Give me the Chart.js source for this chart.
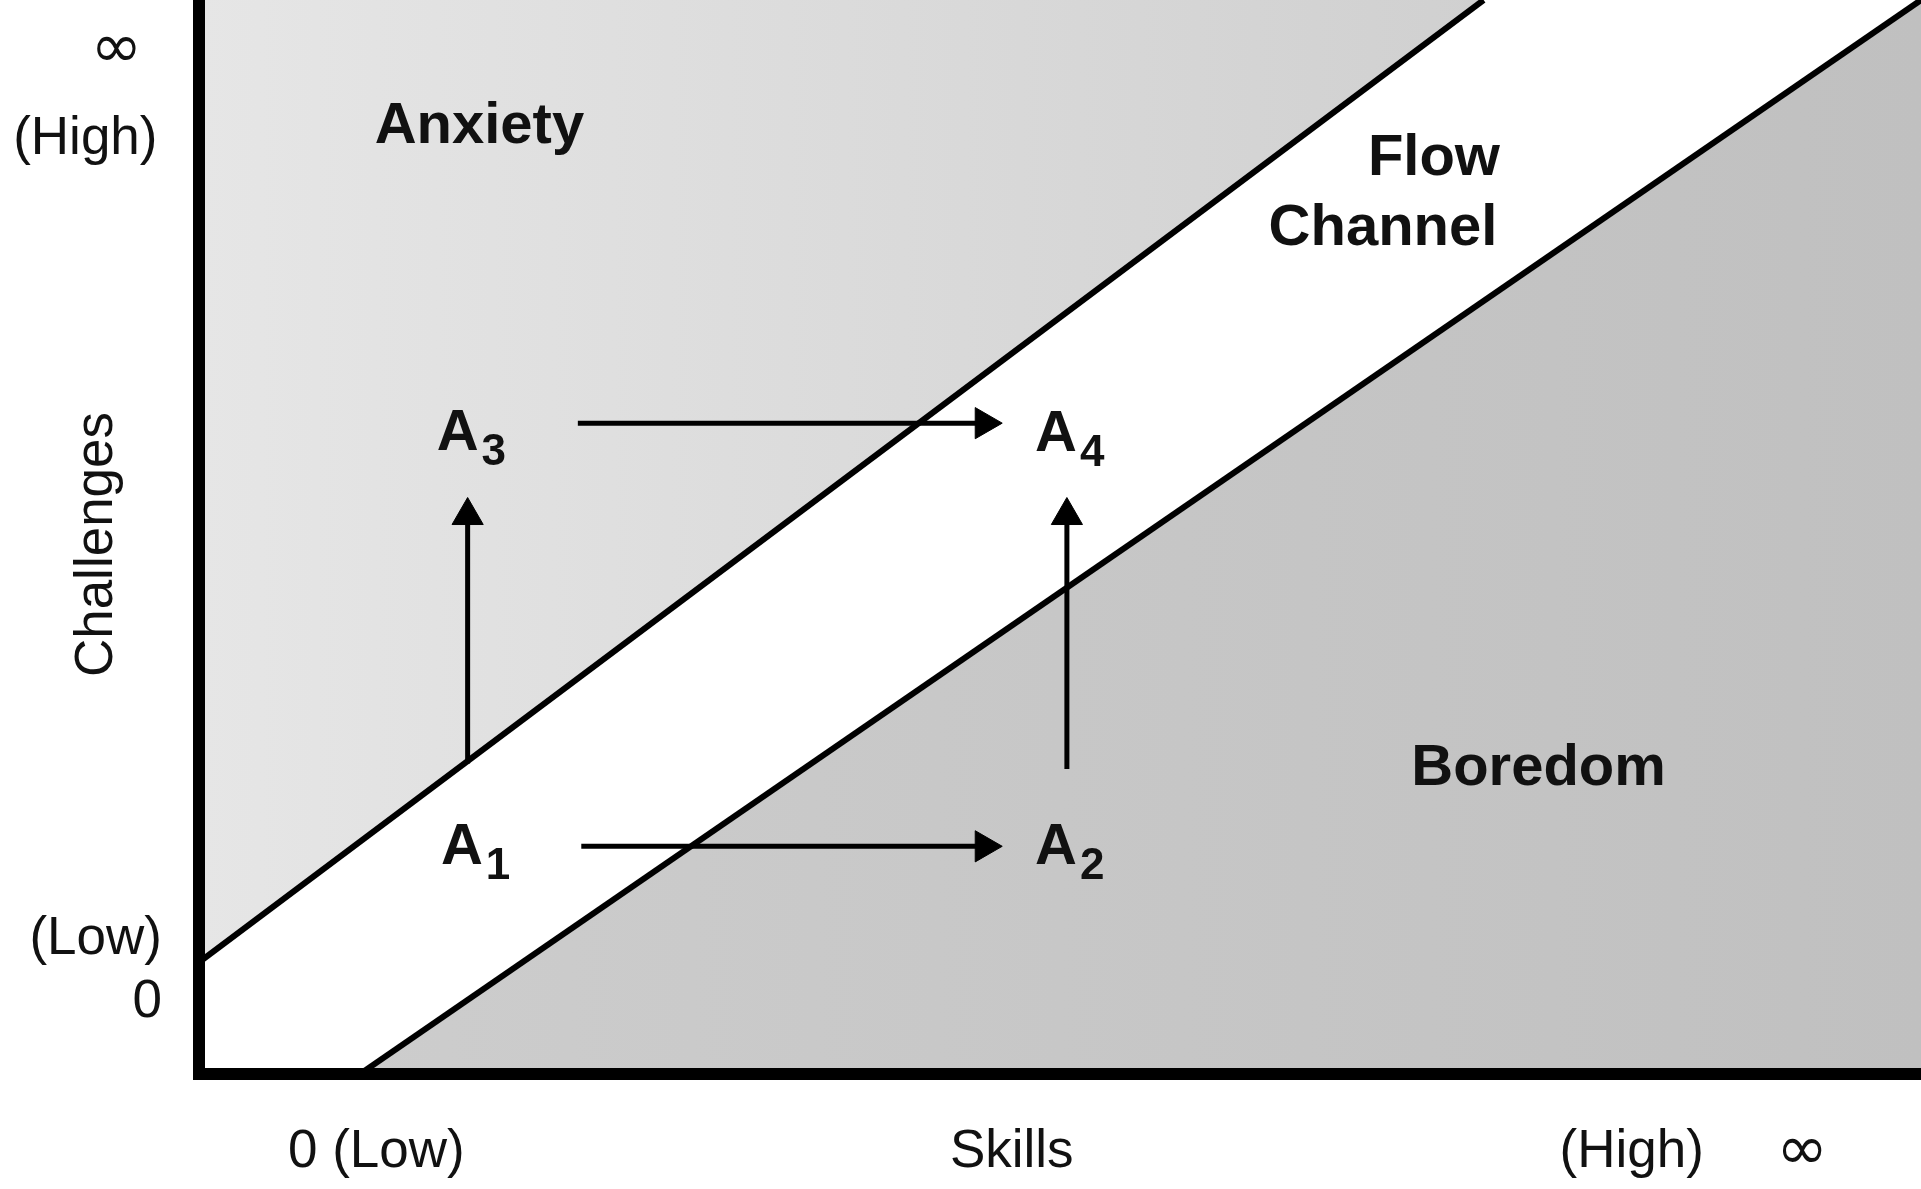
<!DOCTYPE html>
<html>
<head>
<meta charset="utf-8">
<title>Flow Channel</title>
<script src="https://cdn.jsdelivr.net/npm/chart.js@4.4.0/dist/chart.umd.min.js"></script>
<style>
    html, body { margin: 0; padding: 0; background: #fff; }
</style>
</head>
<body>
<canvas id="flowChart" width="1921" height="1189"></canvas>
<script>
"use strict";

// Both axes run 0..100 (skills on x, challenges on y)

// Edges of the flow channel
var upperEdgeX = [0, 74.6];
var upperEdgeY = [10.4, 100];
var lowerEdgeX = [9.35, 100];
var lowerEdgeY = [0, 100];

// Arrows between states
var arrowNames = ["A1 to A2", "A3 to A4", "A1 to A3", "A2 to A4"];
var arrowFromX = [22.2, 22.0, 15.6, 50.4];
var arrowFromY = [21.2, 60.6, 28.9, 28.4];
var arrowToX = [45.6, 45.6, 15.6, 50.4];
var arrowToY = [21.2, 60.6, 52.0, 52.0];

// States A1..A4
var stateSubs = ["1", "2", "3", "4"];
var stateX = [14.05, 48.55, 13.8, 48.55];
var stateY = [19.55, 19.55, 58.1, 58.0];

// Region names
var regionNames = ["Anxiety", "Flow", "Channel", "Boredom"];
var regionX = [10.2, 75.55, 75.4, 70.4];
var regionY = [86.7, 83.7, 77.2, 26.9];
var regionAlign = ["left", "right", "right", "left"];

// Tick labels
var yTickLabels = ["\u221E", "(High)", "(Low)", "0"];
var yTickValues = [95.3, 87.0, 12.5, 6.7];
var xTickLabels = ["0 (Low)", "(High)", "\u221E"];
var xTickValues = [10.3, 83.2, 93.1];

var xTitle = "Skills";
var yTitle = "Challenges";

// Where the outside texts sit (data units, beyond the axes)
var yTickAt = [-4.8, -6.6, -6.0, -3.0];
var xTickAt = -7.3;
var xTitleAt = 47.2;
var yTitleAt = -5.9;

var fontFamily = "'Liberation Sans', Arial, Helvetica, sans-serif";
var infinity = "\u221E";

function anxietyFill(context) {
    var area = context.chart.chartArea;
    if (!area) {
        return "rgb(218, 218, 218)";
    }
    var g = context.chart.ctx.createLinearGradient(area.left, 0, area.right, 0);
    g.addColorStop(0, "rgb(230, 230, 230)");
    g.addColorStop(0.75, "rgb(208, 208, 208)");
    return g;
}

function boredomFill(context) {
    var area = context.chart.chartArea;
    if (!area) {
        return "rgb(198, 198, 198)";
    }
    var g = context.chart.ctx.createLinearGradient(area.left, 0, area.right, 0);
    g.addColorStop(0, "rgb(206, 206, 206)");
    g.addColorStop(1, "rgb(192, 192, 192)");
    return g;
}

function toPoints(xs, ys) {
    var pts = [];
    for (let i = 0; i < xs.length; i++) {
        pts.push({ x: xs[i], y: ys[i] });
    }
    return pts;
}

var datasets = [];

// Arrows (drawn on top)
for (let i = 0; i < arrowNames.length; i++) {
    var horizontal = arrowFromY[i] === arrowToY[i];
    datasets.push({
        label: arrowNames[i],
        data: toPoints([arrowFromX[i], arrowToX[i]], [arrowFromY[i], arrowToY[i]]),
        borderColor: "#000",
        borderWidth: 5,
        fill: false,
        pointStyle: "triangle",
        pointRadius: [0, 18],
        pointRotation: [0, horizontal ? 90 : 0],
        pointBackgroundColor: "#000",
        pointBorderColor: "#000",
        pointBorderWidth: 1,
        order: 0
    });
}

// Channel edges with the shaded regions
datasets.push({
    label: "Upper edge",
    data: toPoints(upperEdgeX, upperEdgeY),
    borderColor: "#000",
    borderWidth: 6,
    pointRadius: 0,
    fill: "end",
    backgroundColor: anxietyFill,
    order: 1
});
datasets.push({
    label: "Lower edge",
    data: toPoints(lowerEdgeX, lowerEdgeY),
    borderColor: "#000",
    borderWidth: 6,
    pointRadius: 0,
    fill: "start",
    backgroundColor: boredomFill,
    order: 1
});

function setLabelFont(ctx, text) {
    // the infinity sign is drawn bigger, as in the printed figure
    if (text === infinity) {
        ctx.font = "62px 'DejaVu Sans', sans-serif";
    } else {
        ctx.font = "53px " + fontFamily;
    }
}

var labelPlugin = {
    id: "flowLabels",
    afterDatasetsDraw: function (chart) {
        var ctx = chart.ctx;
        var xs = chart.scales.x;
        var ys = chart.scales.y;

        ctx.save();
        ctx.fillStyle = "#111";

        // Region names
        ctx.font = "bold 58px " + fontFamily;
        ctx.textBaseline = "alphabetic";
        for (let i = 0; i < regionNames.length; i++) {
            ctx.textAlign = regionAlign[i];
            ctx.fillText(regionNames[i], xs.getPixelForValue(regionX[i]), ys.getPixelForValue(regionY[i]));
        }

        // States with subscripts
        ctx.textAlign = "left";
        for (let i = 0; i < stateSubs.length; i++) {
            var px = xs.getPixelForValue(stateX[i]);
            var py = ys.getPixelForValue(stateY[i]);
            ctx.font = "bold 58px " + fontFamily;
            ctx.fillText("A", px, py);
            var w = ctx.measureText("A").width;
            ctx.font = "bold 44px " + fontFamily;
            ctx.fillText(stateSubs[i], px + w + 3, py + 15);
        }

        // Tick labels
        ctx.textAlign = "center";
        ctx.textBaseline = "middle";
        for (let i = 0; i < yTickLabels.length; i++) {
            setLabelFont(ctx, yTickLabels[i]);
            ctx.fillText(yTickLabels[i], xs.getPixelForValue(yTickAt[i]), ys.getPixelForValue(yTickValues[i]));
        }
        for (let i = 0; i < xTickLabels.length; i++) {
            setLabelFont(ctx, xTickLabels[i]);
            ctx.fillText(xTickLabels[i], xs.getPixelForValue(xTickValues[i]), ys.getPixelForValue(xTickAt));
        }

        // Axis titles
        ctx.font = "53px " + fontFamily;
        ctx.fillText(xTitle, xs.getPixelForValue(xTitleAt), ys.getPixelForValue(xTickAt));
        ctx.translate(xs.getPixelForValue(yTitleAt), ys.getPixelForValue(49.3));
        ctx.rotate(-Math.PI / 2);
        ctx.fillText(yTitle, 0, 0);

        ctx.restore();
    }
};

var config = {
    type: "line",
    data: { datasets: datasets },
    options: {
        responsive: false,
        animation: false,
        events: [],
        layout: {
            autoPadding: false,
            padding: { left: 199, right: 0, top: 0, bottom: 115 }
        },
        plugins: {
            legend: { display: false },
            tooltip: { enabled: false }
        },
        scales: {
            x: {
                type: "linear",
                min: 0,
                max: 100,
                grid: { display: false, drawTicks: false },
                ticks: { display: false },
                border: { display: true, color: "#000", width: 12, z: 1 }
            },
            y: {
                type: "linear",
                min: 0,
                max: 100,
                grid: { display: false, drawTicks: false },
                ticks: { display: false },
                border: { display: true, color: "#000", width: 12, z: 1 }
            }
        }
    },
    plugins: [labelPlugin]
};

var chart = new Chart(document.getElementById("flowChart").getContext("2d"), config);
</script>
</body>
</html>
